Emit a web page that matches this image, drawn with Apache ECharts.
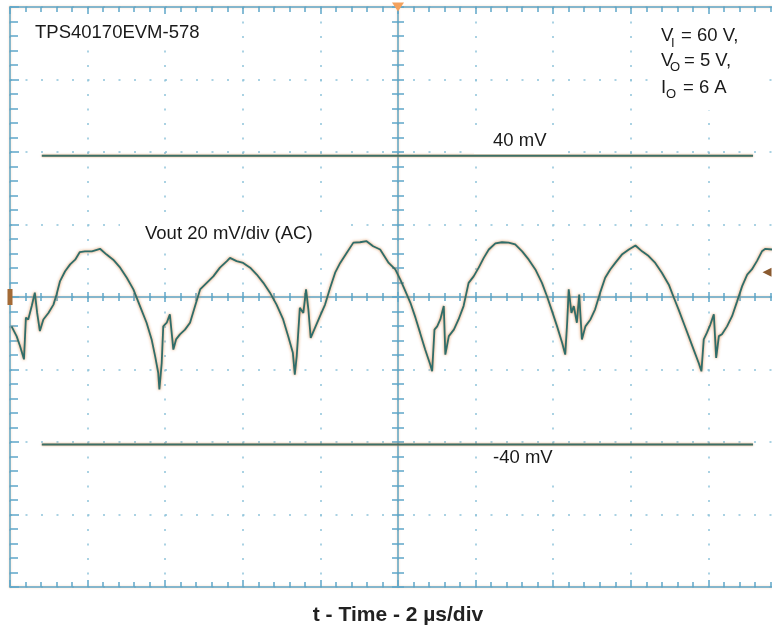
<!DOCTYPE html>
<html>
<head>
<meta charset="utf-8">
<title>TPS40170EVM-578 output ripple</title>
<script src="https://cdn.jsdelivr.net/npm/echarts@6/dist/echarts.min.js"></script>
<style>
  html, body { margin: 0; padding: 0; background: #fff; }
  #chart { width: 772px; height: 625px; }
</style>
</head>
<body>
<div id="chart"></div>
<script>
// time relative to trigger (us), 2 us/div
var timeUs = [
  -9.96, -9.83, -9.74, -9.64, -9.59, -9.53, -9.44, -9.36, -9.30, -9.23,
  -9.14, -9.01, -8.88, -8.80, -8.71, -8.58, -8.45, -8.32, -8.20, -8.07,
  -7.89, -7.68, -7.51, -7.34, -7.16, -6.99, -6.82, -6.65, -6.48, -6.35,
  -6.26, -6.18, -6.15, -6.09, -6.05, -5.96, -5.88, -5.83, -5.79, -5.72,
  -5.62, -5.49, -5.36, -5.23, -5.10, -4.93, -4.76, -4.59, -4.41, -4.33,
  -4.16, -3.99, -3.81, -3.64, -3.47, -3.30, -3.13, -2.96, -2.83, -2.71,
  -2.66, -2.61, -2.53, -2.44, -2.37, -2.31, -2.25, -2.14, -2.01, -1.88,
  -1.75, -1.62, -1.49, -1.32, -1.15, -0.98, -0.81, -0.64, -0.46, -0.24,
  -0.07, 0.06, 0.19, 0.32, 0.45, 0.57, 0.70, 0.83, 0.88, 0.94,
  1.01, 1.09, 1.18, 1.22, 1.31, 1.44, 1.56, 1.69, 1.82, 1.95,
  2.08, 2.21, 2.34, 2.51, 2.68, 2.85, 3.02, 3.20, 3.37, 3.54,
  3.71, 3.84, 3.97, 4.10, 4.23, 4.31, 4.36, 4.40, 4.47, 4.53,
  4.61, 4.67, 4.74, 4.83, 4.96, 5.08, 5.21, 5.34, 5.47, 5.60,
  5.77, 5.95, 6.12, 6.29, 6.46, 6.63, 6.80, 6.98, 7.11, 7.23,
  7.36, 7.49, 7.62, 7.75, 7.82, 7.88, 7.96, 8.05, 8.14, 8.20,
  8.27, 8.35, 8.48, 8.61, 8.74, 8.87, 9.00, 9.12, 9.25, 9.38,
  9.47, 9.64
];
// Vout ripple (mV), 20 mV/div
var voutMv = [
  -8.1, -10.8, -13.6, -17.2, -5.7, -6.2, -2.5, 1.2, -4.4, -9.4,
  -6.2, -4.4, -2.1, 0.7, 4.4, 7.1, 9.0, 10.3, 12.4, 12.6,
  12.6, 13.3, 11.7, 10.3, 8.1, 5.3, 2.1, -2.5, -7.1, -11.7,
  -16.3, -20.9, -25.5, -18.2, -8.1, -7.1, -4.8, -4.4, -14.5, -11.7,
  -10.3, -9.0, -7.1, -2.5, 2.1, 3.9, 5.7, 8.1, 9.9, 10.8,
  9.9, 9.4, 8.1, 6.2, 3.9, 1.2, -2.1, -6.2, -10.8, -15.4,
  -21.4, -16.3, -3.0, -4.4, 2.1, -3.4, -11.3, -8.5, -5.3, -2.1,
  2.5, 6.7, 9.4, 12.2, 15.0, 15.1, 15.4, 14.0, 13.1, 9.4,
  7.6, 4.8, 1.6, -1.6, -5.7, -9.9, -14.5, -18.6, -20.5, -9.0,
  -8.1, -6.2, -2.5, -15.9, -10.8, -9.0, -6.2, -2.5, 3.9, 5.7,
  8.1, 10.8, 13.1, 14.8, 15.1, 15.0, 14.5, 12.6, 10.3, 7.6,
  3.9, 0.2, -3.9, -8.1, -12.6, -15.9, -7.1, 2.1, -4.4, -2.5,
  -7.1, 0.7, -11.7, -8.1, -6.2, -3.4, 1.2, 5.3, 7.6, 9.4,
  11.7, 13.1, 14.2, 12.6, 11.3, 9.4, 6.7, 3.4, -0.2, -3.4,
  -7.1, -10.8, -14.5, -18.2, -20.5, -11.7, -9.9, -7.6, -4.8, -16.8,
  -10.8, -10.3, -8.1, -5.3, -1.2, 3.0, 6.2, 7.6, 9.9, 12.6,
  13.3, 13.1
];
// the two horizontal cursors (mV) and where they start / stop (us)
var cursorLevels = [39.0, -40.7];
var cursorSpan = [-9.18, 9.15];

// scope screen: 10 x 8 divisions
var timeRange = [-10, 10];
var timeDiv = 2;
var voltRange = [-80, 80];
var voltDiv = 20;

var chart = echarts.init(document.getElementById('chart'));

var gratColor = '#5fa7c9';
var dotColor = '#8ec3da';
var halo = 'rgba(240,165,105,0.55)';
var traceColor = '#2f6d6a';
var font = '"Liberation Sans", Arial, sans-serif';

function axisBase(extra) {
  var a = {
    type: 'value',
    axisLabel: { show: false },
    splitLine: { show: false },
    axisLine: { show: true, onZero: false, lineStyle: { color: gratColor, width: 1.5, shadowColor: halo, shadowBlur: 2 } },
    axisTick: { show: true, inside: true, length: 7, lineStyle: { color: gratColor, width: 1.5 } },
    minorTick: { show: true, splitNumber: 5, length: 5, lineStyle: { color: gratColor, width: 1.5 } }
  };
  return Object.assign(a, extra);
}

var xAxes = [
  axisBase({
    position: 'bottom', min: timeRange[0], max: timeRange[1], interval: timeDiv,
    name: 't - Time - 2 \u00b5s/div', nameLocation: 'middle', nameGap: 18,
    nameTextStyle: { fontFamily: font, fontSize: 21, fontWeight: 'bold', color: '#222' },
    splitLine: { show: true, lineStyle: { color: dotColor, width: 1.5, type: [2, 12.5] } }
  }),
  axisBase({ position: 'top', min: timeRange[0], max: timeRange[1], interval: timeDiv }),
  // centre line, ticks both sides
  axisBase({ position: 'bottom', min: timeRange[0], max: timeRange[1], interval: timeDiv,
    axisLine: { show: true, onZero: true, lineStyle: { color: gratColor, width: 1.5, shadowColor: halo, shadowBlur: 2 } },
    axisTick: { show: true, inside: true, length: 5, lineStyle: { color: gratColor, width: 1.5 } },
    minorTick: { show: true, splitNumber: 5, length: 4, lineStyle: { color: gratColor, width: 1.5 } } }),
  axisBase({ position: 'bottom', min: timeRange[0], max: timeRange[1], interval: timeDiv,
    axisLine: { show: false, onZero: true },
    axisTick: { show: true, inside: false, length: 5, lineStyle: { color: gratColor, width: 1.5 } },
    minorTick: { show: true, splitNumber: 5, length: 4, lineStyle: { color: gratColor, width: 1.5 } } })
];

var yAxes = [
  axisBase({
    position: 'left', min: voltRange[0], max: voltRange[1], interval: voltDiv,
    axisTick: { show: true, inside: true, length: 9, lineStyle: { color: gratColor, width: 1.5 } },
    minorTick: { show: true, splitNumber: 5, length: 8, lineStyle: { color: gratColor, width: 1.5 } },
    splitLine: { show: true, lineStyle: { color: dotColor, width: 1.5, type: [2, 13.5] } }
  }),
  axisBase({ position: 'left', min: voltRange[0], max: voltRange[1], interval: voltDiv,
    axisLine: { show: true, onZero: true, lineStyle: { color: gratColor, width: 1.5, shadowColor: halo, shadowBlur: 2 } },
    axisTick: { show: true, inside: true, length: 6, lineStyle: { color: gratColor, width: 1.5 } },
    minorTick: { show: true, splitNumber: 5, length: 6, lineStyle: { color: gratColor, width: 1.5 } } }),
  axisBase({ position: 'left', min: voltRange[0], max: voltRange[1], interval: voltDiv,
    axisLine: { show: false, onZero: true },
    axisTick: { show: true, inside: false, length: 6, lineStyle: { color: gratColor, width: 1.5 } },
    minorTick: { show: true, splitNumber: 5, length: 6, lineStyle: { color: gratColor, width: 1.5 } } })
];

var trace = timeUs.map(function (t, i) { return [t, voutMv[i]]; });

var cursorSeries = cursorLevels.map(function (lv) {
  return {
    type: 'line', xAxisIndex: 0, yAxisIndex: 0, silent: true, showSymbol: false,
    data: [[cursorSpan[0], lv], [cursorSpan[1], lv]],
    lineStyle: { color: '#3d6f66', width: 2, shadowColor: 'rgba(220,130,60,0.8)', shadowBlur: 2 },
    z: 3
  };
});

function txt(x, y, s, size) {
  return { type: 'text', x: x, y: y, z: 60,
    style: { text: s, fill: '#1a1a1a', font: (size || 18.5) + 'px ' + font, verticalAlign: 'middle' } };
}
function box(x, y, w, h) {
  return { type: 'rect', z: 55, shape: { x: x, y: y, width: w, height: h }, style: { fill: '#fff' } };
}

chart.setOption({
  animation: false,
  backgroundColor: '#fff',
  grid: { left: 10, top: 7, width: 776, height: 580, containLabel: false, outerBoundsMode: 'none' },
  xAxis: xAxes,
  yAxis: yAxes,
  series: [
    {
      type: 'line', xAxisIndex: 0, yAxisIndex: 0, silent: true, showSymbol: false,
      data: trace,
      lineStyle: { color: traceColor, width: 1.8, shadowColor: 'rgba(220,130,60,0.9)', shadowBlur: 3 },
      z: 4,
      markPoint: {
        silent: true,
        label: { show: false },
        data: [
          { coord: [0, voltRange[1]], symbol: 'triangle', symbolRotate: 180, symbolSize: [12, 9], itemStyle: { color: '#f4a15c' } },
          { coord: [timeRange[0], 0], symbol: 'rect', symbolSize: [5, 16], itemStyle: { color: '#a36a36' } },
          { coord: [9.51, 6.8], symbol: 'triangle', symbolRotate: 90, symbolSize: [9, 9], itemStyle: { color: '#8a5a30' } }
        ]
      }
    }
  ].concat(cursorSeries),
  graphic: [
    box(20, 20, 193, 27),
    box(120, 222, 218, 25),
    box(474, 129, 94, 25),
    box(478, 447, 93, 35),
    box(650, 20, 108, 90),
    box(574, 545, 85, 27),
    txt(35, 33, 'TPS40170EVM-578'),
    txt(145, 234, 'Vout 20 mV/div (AC)'),
    txt(493, 141, '40 mV'),
    txt(493, 458, '-40 mV'),
    txt(661, 36, 'V'), txt(671, 43, 'I', 13), txt(681, 36, '= 60 V,'),
    txt(661, 61, 'V'), txt(670, 67, 'O', 13), txt(684, 61, '= 5 V,'),
    txt(661, 88, 'I'), txt(666, 94, 'O', 13), txt(683, 88, '= 6 A')
  ]
});
</script>
</body>
</html>
